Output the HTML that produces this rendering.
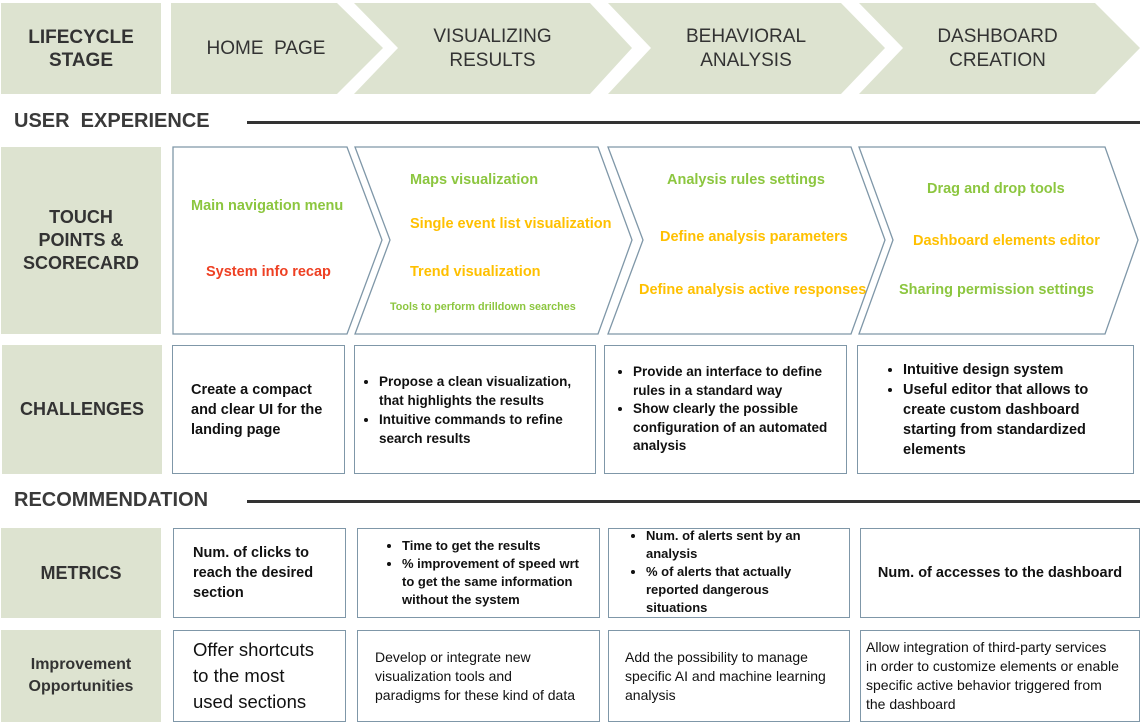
<!DOCTYPE html>
<html><head><meta charset="utf-8"><style>
body{margin:0;width:1142px;height:727px;background:#fff;position:relative;overflow:hidden;font-family:"Liberation Sans",sans-serif;}
.a{position:absolute;}
.lab{position:absolute;background:#dde3d0;color:#333;font-weight:bold;display:flex;align-items:center;justify-content:center;text-align:center;font-size:18px;line-height:23px;}
.box{position:absolute;border:1.5px solid #7f97a8;box-sizing:border-box;display:flex;align-items:center;color:#111;font-weight:bold;font-size:14px;line-height:20px;}
.t{position:absolute;font-weight:bold;font-size:14.5px;white-space:nowrap;}
.g{color:#8cc63f}.y{color:#ffc000}.r{color:#ee4023}
ul{margin:0;padding-left:26px;}
li{margin:0;}
.hd{position:absolute;font-weight:bold;font-size:20px;color:#3a3a3a;}
.ln{position:absolute;height:3px;background:#333;}
.st{position:absolute;color:#333;font-size:19px;line-height:24px;text-align:center;}
.imp{font-weight:normal;font-size:14px;line-height:19px;font-family:"Liberation Sans Narrow","Liberation Sans",sans-serif;}
</style></head><body>
<svg class="a" style="left:0;top:0" width="1142" height="340">
<g fill="#dde3d0">
<polygon points="171,3 337,3 383,48 337,94 171,94"/>
<polygon points="354,3 590,3 632,48 590,94 354,94 398,48"/>
<polygon points="608,3 841,3 885,48 841,94 608,94 651,48"/>
<polygon points="859,3 1095,3 1140,48 1095,94 859,94 903,48"/>
</g>
<g fill="#fff" stroke="#7f97a8" stroke-width="1.3">
<polygon points="173,147 347,147 382,240 347,334 173,334"/>
<polygon points="355,147 598,147 632,240 598,334 355,334 390,240"/>
<polygon points="608,147 851,147 885,240 851,334 608,334 643,240"/>
<polygon points="859,147 1105,147 1138,240 1105,334 859,334 893,240"/>
</g>
</svg>
<div class="lab" style="left:1px;top:3px;width:160px;height:91px;font-size:19px;">LIFECYCLE<br>STAGE</div>
<div class="st" style="left:171px;top:37px;width:190px;">HOME&nbsp; PAGE</div>
<div class="st" style="left:380px;top:25px;width:225px;">VISUALIZING<br>RESULTS</div>
<div class="st" style="left:632px;top:25px;width:228px;">BEHAVIORAL<br>ANALYSIS</div>
<div class="st" style="left:885px;top:25px;width:225px;">DASHBOARD<br>CREATION</div>

<div class="hd" style="left:14px;top:110px;">USER&nbsp; EXPERIENCE</div>
<div class="ln" style="left:247px;top:121px;width:893px;"></div>

<div class="lab" style="left:1px;top:147px;width:160px;height:187px;">TOUCH<br>POINTS &amp;<br>SCORECARD</div>
<div class="t g" style="left:191px;top:198px;">Main navigation menu</div>
<div class="t r" style="left:206px;top:264px;">System info recap</div>
<div class="t g" style="left:410px;top:172px;">Maps visualization</div>
<div class="t y" style="left:410px;top:216px;">Single event list visualization</div>
<div class="t y" style="left:410px;top:264px;">Trend visualization</div>
<div class="t g" style="left:390px;top:301px;font-size:10.8px;">Tools to perform drilldown searches</div>
<div class="t g" style="left:667px;top:172px;">Analysis rules settings</div>
<div class="t y" style="left:660px;top:229px;">Define analysis parameters</div>
<div class="t y" style="left:639px;top:282px;">Define analysis active responses</div>
<div class="t g" style="left:927px;top:181px;">Drag and drop tools</div>
<div class="t y" style="left:913px;top:233px;">Dashboard elements editor</div>
<div class="t g" style="left:899px;top:282px;">Sharing permission settings</div>

<div class="lab" style="left:2px;top:345px;width:160px;height:129px;">CHALLENGES</div>
<div class="box" style="left:172px;top:345px;width:173px;height:129px;padding-left:18px;font-size:14.5px;">Create a compact<br>and clear UI for the<br>landing page</div>
<div class="box" style="left:354px;top:345px;width:242px;height:129px;font-size:13.5px;line-height:19px;"><ul style="padding-left:24px;padding-right:14px"><li>Propose a clean visualization, that highlights the results</li><li>Intuitive commands to refine search results</li></ul></div>
<div class="box" style="left:604px;top:345px;width:243px;height:129px;font-size:13.5px;line-height:18.5px;"><ul style="padding-left:28px;padding-right:14px"><li>Provide an interface to define rules in a standard way</li><li>Show clearly the possible configuration of an automated analysis</li></ul></div>
<div class="box" style="left:857px;top:345px;width:277px;height:129px;font-size:14.5px;"><ul style="padding-left:45px;padding-right:20px"><li>Intuitive design system</li><li>Useful editor that allows to create custom dashboard starting from standardized elements</li></ul></div>

<div class="hd" style="left:14px;top:489px;">RECOMMENDATION</div>
<div class="ln" style="left:247px;top:500px;width:893px;"></div>

<div class="lab" style="left:1px;top:528px;width:160px;height:90px;">METRICS</div>
<div class="box" style="left:173px;top:528px;width:173px;height:90px;padding-left:19px;font-size:14.5px;">Num. of clicks to<br>reach the desired<br>section</div>
<div class="box" style="left:357px;top:528px;width:243px;height:90px;font-size:13px;line-height:18px;"><ul style="padding-left:44px;padding-right:14px"><li>Time to get the results</li><li>% improvement of speed wrt to get the same information without the system</li></ul></div>
<div class="box" style="left:608px;top:528px;width:242px;height:90px;font-size:13px;line-height:18px;align-items:flex-start;"><ul style="padding-left:37px;padding-right:40px;margin-top:-2px"><li>Num. of alerts sent by an analysis</li><li>% of alerts that actually reported dangerous situations</li></ul></div>
<div class="box" style="left:860px;top:528px;width:280px;height:90px;justify-content:center;font-size:14.5px;">Num. of accesses to the dashboard</div>

<div class="lab" style="left:1px;top:630px;width:160px;height:92px;font-size:16px;line-height:22px;">Improvement<br>Opportunities</div>
<div class="box imp" style="left:173px;top:630px;width:173px;height:92px;padding-left:19px;font-size:18.5px;line-height:26px;">Offer shortcuts<br>to the most<br>used sections</div>
<div class="box imp" style="left:357px;top:630px;width:243px;height:92px;padding-left:17px;">Develop or integrate new<br>visualization tools and<br>paradigms for these kind of data</div>
<div class="box imp" style="left:608px;top:630px;width:242px;height:92px;padding-left:16px;">Add the possibility to manage<br>specific AI and machine learning<br>analysis</div>
<div class="box imp" style="left:860px;top:630px;width:280px;height:92px;padding-left:5px;">Allow integration of third-party services<br>in order to customize elements or enable<br>specific active behavior triggered from<br>the dashboard</div>
</body></html>
